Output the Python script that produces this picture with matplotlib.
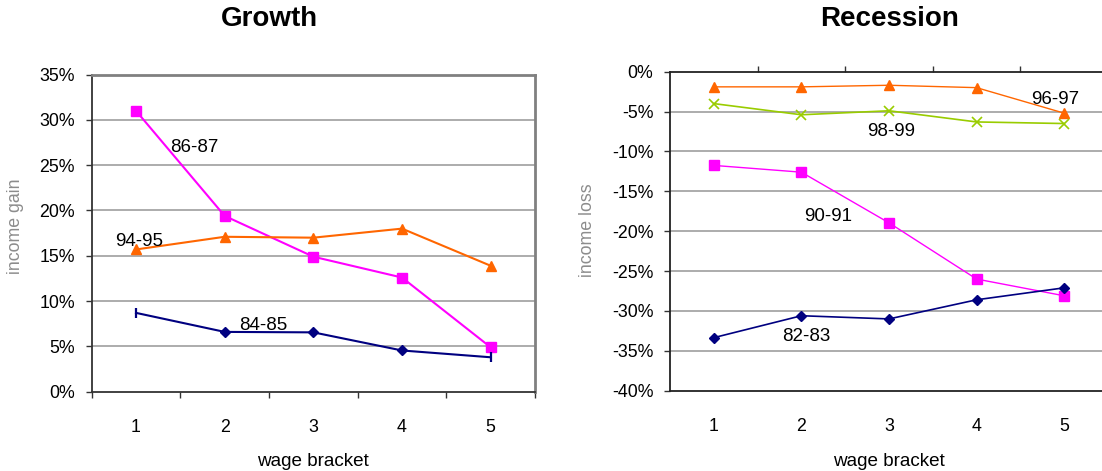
import matplotlib
matplotlib.use("Agg")
import matplotlib.pyplot as plt
from matplotlib.ticker import FuncFormatter, FixedLocator

plt.rcParams['font.family'] = ['Liberation Sans', 'DejaVu Sans']

# ---------------- data ----------------
brackets = [1, 2, 3, 4, 5]

# Growth (income gain, %)
growth_8687 = [31.0, 19.4, 14.9, 12.6, 4.9]
growth_9495 = [15.7, 17.1, 17.0, 18.0, 13.9]
growth_8485 = [8.7, 6.6, 6.55, 4.55, 3.8]

# Recession (income loss, %)
rec_9697 = [-1.9, -1.9, -1.7, -2.0, -5.2]
rec_9899 = [-4.0, -5.4, -4.9, -6.3, -6.5]
rec_9091 = [-11.75, -12.6, -18.95, -26.0, -28.1]
rec_8283 = [-33.35, -30.6, -31.0, -28.6, -27.1]

growth_ticks = [0, 5, 10, 15, 20, 25, 30, 35]
rec_ticks = [-40, -35, -30, -25, -20, -15, -10, -5, 0]

NAVY = "#000080"
MAGENTA = "#FF00FF"
ORANGE = "#FF6600"
GREEN = "#99CC00"
GRID = "#A6A6A6"

W, H = 1102, 471
fig = plt.figure(figsize=(W / 100, H / 100), dpi=100)


def px_rect(x0, y0, x1, y1):
    return [x0 / W, 1 - y1 / H, (x1 - x0) / W, (y1 - y0) / H]


pct = FuncFormatter(lambda v, p: f"{v:.0f}%")

# ---------------- Growth ----------------
ax1 = fig.add_axes(px_rect(91.7, 74.6, 535, 391.7))
ax1.set_xlim(0.5, 5.5)
ax1.set_ylim(0, 35)
ax1.yaxis.set_major_locator(FixedLocator(growth_ticks))
ax1.yaxis.set_major_formatter(pct)
for v in growth_ticks[1:]:
    ax1.axhline(v, color=GRID, lw=1.3, zorder=0)
ax1.set_xticks(brackets)
ax1.set_xticks([0.5, 1.5, 2.5, 3.5, 4.5, 5.5], minor=True)
ax1.tick_params(axis='x', which='major', length=0, pad=20, labelsize=12.8)
ax1.tick_params(axis='x', which='minor', length=4, width=1, direction='out', color='#333333')
ax1.tick_params(axis='y', length=4, width=1, pad=8, labelsize=12.8, color='#333333')
for s in ['left', 'bottom']:
    ax1.spines[s].set_color('#333333')
    ax1.spines[s].set_linewidth(1.3)
for s in ['top', 'right']:
    ax1.spines[s].set_color('#808080')
    ax1.spines[s].set_linewidth(2)

ax1.plot(brackets, growth_8687, color=MAGENTA, lw=1.5, marker='s', ms=7.2,
         mec=MAGENTA, mfc=MAGENTA, zorder=3, clip_on=False)
ax1.plot(brackets, growth_9495, color=ORANGE, lw=1.5, marker='^', ms=6.8,
         mec=ORANGE, mfc=ORANGE, zorder=3, clip_on=False)
ax1.plot(brackets, growth_8485, color=NAVY, lw=1.5, zorder=3, clip_on=False)
ax1.plot(brackets[1:4], growth_8485[1:4], ls='none', marker='D', ms=5.5,
         color=NAVY, zorder=4)
ax1.plot([brackets[0], brackets[4]], [growth_8485[0], growth_8485[4]], ls='none',
         marker='|', ms=7, mew=1.6, color=NAVY, zorder=4)

ax1.text(1.66, 26.9, "86-87", fontsize=13.5, ha='center', va='center', zorder=5)
ax1.text(1.03, 16.6, "94-95", fontsize=13.5, ha='center', va='center', zorder=5)
ax1.text(2.44, 7.3, "84-85", fontsize=13.5, ha='center', va='center', zorder=5)

# ---------------- Recession ----------------
ax2 = fig.add_axes(px_rect(670, 71.7, 1108, 390.7))
ax2.set_xlim(0.5, 5.5)
ax2.set_ylim(-40, 0)
ax2.yaxis.set_major_locator(FixedLocator(rec_ticks))
ax2.yaxis.set_major_formatter(pct)
for v in rec_ticks[1:-1]:
    ax2.axhline(v, color=GRID, lw=1.3, zorder=0)
ax2.set_xticks(brackets)
ax2.set_xticks([1.5, 2.5, 3.5, 4.5], minor=True)
ax2.tick_params(axis='x', which='major', length=0, pad=20, labelsize=12.8)
ax2.tick_params(axis='x', which='minor', bottom=False, top=True, length=4,
                width=1, direction='out', color='#333333')
ax2.tick_params(axis='y', length=4, width=1, pad=8, labelsize=12.8, color='#333333')
for s in ['left', 'bottom', 'top']:
    ax2.spines[s].set_color('#222222')
    ax2.spines[s].set_linewidth(1.3)
ax2.spines['right'].set_visible(False)

ax2.plot(brackets, rec_9697, color=ORANGE, lw=1.0, marker='^', ms=6.5,
         mec=ORANGE, mfc=ORANGE, zorder=3)
ax2.plot(brackets, rec_9899, color=GREEN, lw=1.2, marker='x', ms=7,
         mew=1.2, zorder=3)
ax2.plot(brackets, rec_9091, color=MAGENTA, lw=1.0, marker='s', ms=6.5,
         mec=MAGENTA, mfc=MAGENTA, zorder=3)
ax2.plot(brackets, rec_8283, color=NAVY, lw=1.2, marker='D', ms=4.6,
         zorder=3)

ax2.text(4.90, -3.5, "96-97", fontsize=13.5, ha='center', va='center', zorder=5)
ax2.text(3.02, -7.45, "98-99", fontsize=13.5, ha='center', va='center', zorder=5)
ax2.text(2.30, -18.1, "90-91", fontsize=13.5, ha='center', va='center', zorder=5)
ax2.text(2.06, -33.2, "82-83", fontsize=13.5, ha='center', va='center', zorder=5)

# ---------------- titles & labels ----------------
fig.text(269.5 / W, 1 - 19 / H, "Growth", fontsize=20, fontweight='bold',
         ha='center', va='center')
fig.text(890 / W, 1 - 19 / H, "Recession", fontsize=20, fontweight='bold',
         ha='center', va='center')
fig.text(313 / W, 1 - 462 / H, "wage bracket", fontsize=13.6, ha='center', va='center')
fig.text(889 / W, 1 - 462 / H, "wage bracket", fontsize=13.6, ha='center', va='center')
fig.text(16 / W, 1 - 226 / H, "income gain", fontsize=12.8, color='#8c8c8c',
         rotation=90, ha='center', va='center')
fig.text(587 / W, 1 - 230 / H, "income loss", fontsize=12.8, color='#8c8c8c',
         rotation=90, ha='center', va='center')

fig.savefig("out.png", dpi=100)
